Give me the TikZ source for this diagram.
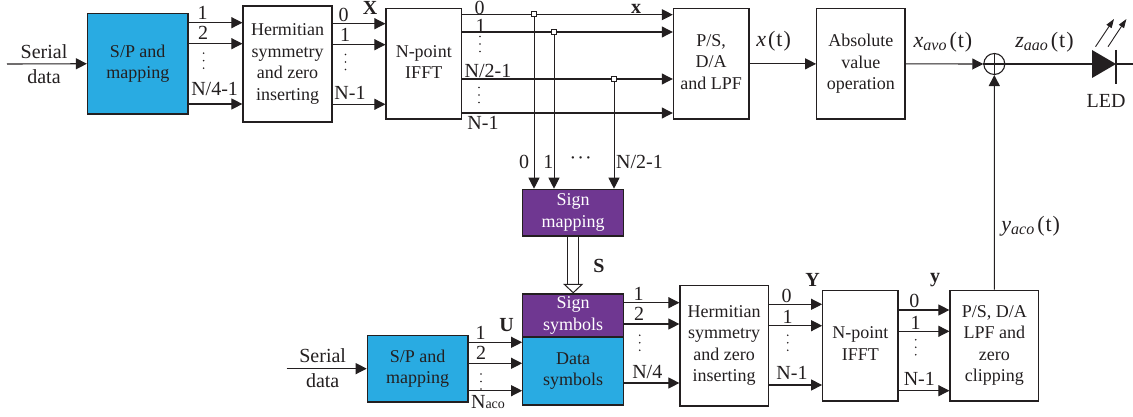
\documentclass[tikz,border=0pt]{standalone}
\usepackage{fontspec}
\setmainfont{Liberation Serif}
\usetikzlibrary{arrows.meta}
\definecolor{linecol}{HTML}{231F20}
\definecolor{mapblue}{HTML}{29ABE2}
\definecolor{signpurple}{HTML}{6F3791}
\tikzset{
  >={Triangle[length=11pt,width=11pt]},
  blockbox/.style={draw=linecol,fill=white,line width=1.2pt,inner sep=0pt,align=center,text=linecol,font=\fontsize{18}{21.4}\selectfont,
    execute at begin node={\rule{0pt}{18pt}},execute at end node={\rule[-4pt]{0pt}{4pt}}},
  portlabel/.style={inner sep=0pt,text=linecol,font=\fontsize{20}{24}\selectfont},
  veclabel/.style={inner sep=0pt,text=linecol,font=\fontsize{20}{24}\selectfont\bfseries},
  siglabel/.style={inner sep=0pt,text=linecol,font=\fontsize{22}{24}\selectfont},
  taptick/.style={draw=linecol,fill=white,line width=0.8pt,inner sep=0pt,minimum size=5pt}
}
\newcommand{\portdots}[2]{\foreach \d in {-7.5,0,7.5} \fill[linecol] (#1,#2+\d) circle (0.9);}
\newcommand{\sigtext}[2]{\textit{#1}\raisebox{-3pt}{\fontsize{16}{17}\selectfont\textit{#2}}\kern3pt(\kern1pt t\kern1pt)}
\begin{document}
\begin{tikzpicture}[x=1pt,y=-1pt,line width=1.1pt,draw=linecol]
\useasboundingbox (0,0) rectangle (1133,417);

% upper branch
\node[blockbox,fill=mapblue,minimum width=100.5,minimum height=100.5] (spa) at (137.75,63.75) {S/P and\\mapping};
\node[blockbox,minimum width=89,minimum height=116] (herma) at (287.5,64) {Hermitian\\symmetry\\and zero\\inserting};
\node[blockbox,minimum width=75.5,minimum height=110.3] (iffta) at (423.75,63.85) {N-point\\IFFT};
\node[blockbox,minimum width=75.6,minimum height=110.3] (psa) at (711.2,63.85) {P/S,\\D/A\\and LPF};
\node[blockbox,minimum width=88.3,minimum height=110.3] (absval) at (860.85,63.85) {Absolute\\value\\operation};
\node[draw=linecol,circle,fill=white,inner sep=0pt,minimum size=21pt] (adder) at (994.3,64) {};
\draw (adder.north) -- (adder.south) (adder.west) -- (adder.east);

% lower branch
\node[blockbox,fill=signpurple,text=white,minimum width=101,minimum height=46.7] (signmap) at (573.2,212.65) {Sign\\mapping};
\node[blockbox,fill=signpurple,text=white,minimum width=101,minimum height=43] (signsym) at (573.2,315.5) {Sign\\symbols};
\node[blockbox,fill=mapblue,minimum width=101,minimum height=68] (datasym) at (573.2,371) {Data\\symbols};
\node[blockbox,fill=mapblue,minimum width=100.7,minimum height=66.7] (spb) at (417.65,368.65) {S/P and\\mapping};
\node[blockbox,minimum width=88.3,minimum height=120.7] (hermb) at (724.15,345.65) {Hermitian\\symmetry\\and zero\\inserting};
\node[blockbox,minimum width=75.3,minimum height=110.7] (ifftb) at (860.35,345.65) {N-point\\IFFT};
\node[blockbox,minimum width=88.7,minimum height=110.7] (psb) at (994.35,345.65) {P/S, D/A\\LPF and\\zero\\clipping};

% serial inputs
\coordinate (ina) at (7,64);
\coordinate (inb) at (286.7,368.65);
\draw[->] (ina) -- (spa.west);
\draw[->] (inb) -- (spb.west);
\node[portlabel,align=center,font=\fontsize{20}{25}\selectfont] (seriala) at (44,64) {Serial\\data};
\node[portlabel,align=center,font=\fontsize{20}{25}\selectfont] (serialb) at (322.7,368.65) {Serial\\data};

% parallel lines
\foreach \y in {22.7,43.7,104}
\draw[->] (spa.east |- 0,\y) -- (herma.west |- 0,\y);
\foreach \y in {23.7,44.7,104.3}
\draw[->] (herma.east |- 0,\y) -- (iffta.west |- 0,\y);
\foreach \y in {14.7,32,79,113}
\draw[->] (iffta.east |- 0,\y) -- (psa.west |- 0,\y);
\foreach \y in {342.3,363.3,390.7}
\draw[->] (spb.east |- 0,\y) -- (datasym.west |- 0,\y);
\foreach \y in {302.7,324,383}
\draw[->] (signsym.east |- 0,\y) -- (hermb.west |- 0,\y);
\foreach \y in {304.3,325.7,385}
\draw[->] (hermb.east |- 0,\y) -- (ifftb.west |- 0,\y);
\foreach \y in {310,331.3,390.7}
\draw[->] (ifftb.east |- 0,\y) -- (psb.west |- 0,\y);

% taps to sign mapping
\foreach \n/\x/\y in {tapa/534/14,tapb/554/31.5,tapc/614/79}{
\node[taptick] (\n) at (\x,\y) {};
\draw[line width=1pt,->] (\n.south) -- (\n |- signmap.north);
}
\draw[double=white,double distance=10pt,line width=1pt,-{Triangle[open,fill=white,length=9.5pt,width=20pt,line width=1pt]}] (signmap.south) -- (signsym.north);

% output chain
\draw[->] (psa.east) -- (absval.west);
\draw[->] (absval.east) -- (adder.west);
\draw[->] (psb.north) -- (adder.south);
\coordinate (ledin) at (1092,64);
\coordinate (ledbar) at (1116,64);
\coordinate (ledout) at (1133,64);
\draw (adder.east) -- (ledin);
\draw (ledbar) -- (ledout);
\fill[linecol] (1092,50) -- (1116,64) -- (1092,78) -- cycle;
\draw (1116,50) -- (1116,84);
\draw[line width=0.9pt,-{Triangle[length=9pt,width=6pt]}] (1095.5,46.7) -- (1114,19);
\draw[line width=0.9pt,-{Triangle[length=9pt,width=6pt]}] (1108,46.7) -- (1126.4,19);

% dots
\portdots{203.6}{60.7}
\portdots{345.4}{62}
\portdots{480}{44}
\portdots{479}{95}
\portdots{481}{381.5}
\portdots{639.7}{342.7}
\portdots{787.7}{342.7}
\portdots{915.7}{347.3}

% port labels
\foreach \n/\x/\y/\t in {a1/202.5/13/1,a2/203/33/2,b0/343.6/15/0,b1/345/35/1,c0/479.6/7.5/0,c1/480.7/25.5/1,
  d0/524/161.7/0,d1/548.4/161.7/1,e1/480.7/333/1,e2/481/353/2,f1/638.7/294/1,f2/639/314/2,
  g0/786.7/295.7/0,g1/787.7/316.7/1,h0/914.3/300.7/0,h1/915.7/323.3/1}
\node[portlabel] (lab\n) at (\x,\y) {\t};
\node[portlabel] (labalast) at (214.6,89) {N/4-1};
\node[portlabel] (labblast) at (350,93) {N-1};
\node[portlabel] (labcmid) at (488,70.7) {N/2-1};
\node[portlabel] (labclast) at (483,123) {N-1};
\node[portlabel] (labddots) at (580.7,161) {\textperiodcentered\kern1pt\textperiodcentered\kern1pt\textperiodcentered};
\node[portlabel] (labdlast) at (639.5,162) {N/2-1};
\node[portlabel] (labelast) at (488,401.7) {N{\fontsize{14}{16}\selectfont aco}};
\node[portlabel] (labflast) at (647.3,371.7) {N/4};
\node[portlabel] (labglast) at (792,372.7) {N-1};
\node[portlabel] (labhlast) at (919.3,379) {N-1};
\node[portlabel] (labled) at (1106,101) {LED};

% vectors and signals
\node[veclabel] (vecX) at (370,8) {X};
\node[veclabel] (vecx) at (636,9) {x};
\node[veclabel] (vecS) at (599,266) {S};
\node[veclabel] (vecU) at (506.7,325) {U};
\node[veclabel] (vecY) at (812.7,280) {Y};
\node[veclabel] (vecy) at (935,280) {y};
\node[siglabel] (sigx) at (773.6,41.7) {\textit{x}\kern2pt(\kern1pt t\kern1pt)};
\node[siglabel] (sigxavo) at (943,42) {\sigtext{x}{avo}};
\node[siglabel] (sigzaao) at (1044.5,42) {\sigtext{z}{aao}};
\node[siglabel] (sigyaco) at (1030.7,226.7) {\sigtext{y}{aco}};
\end{tikzpicture}
\end{document}
